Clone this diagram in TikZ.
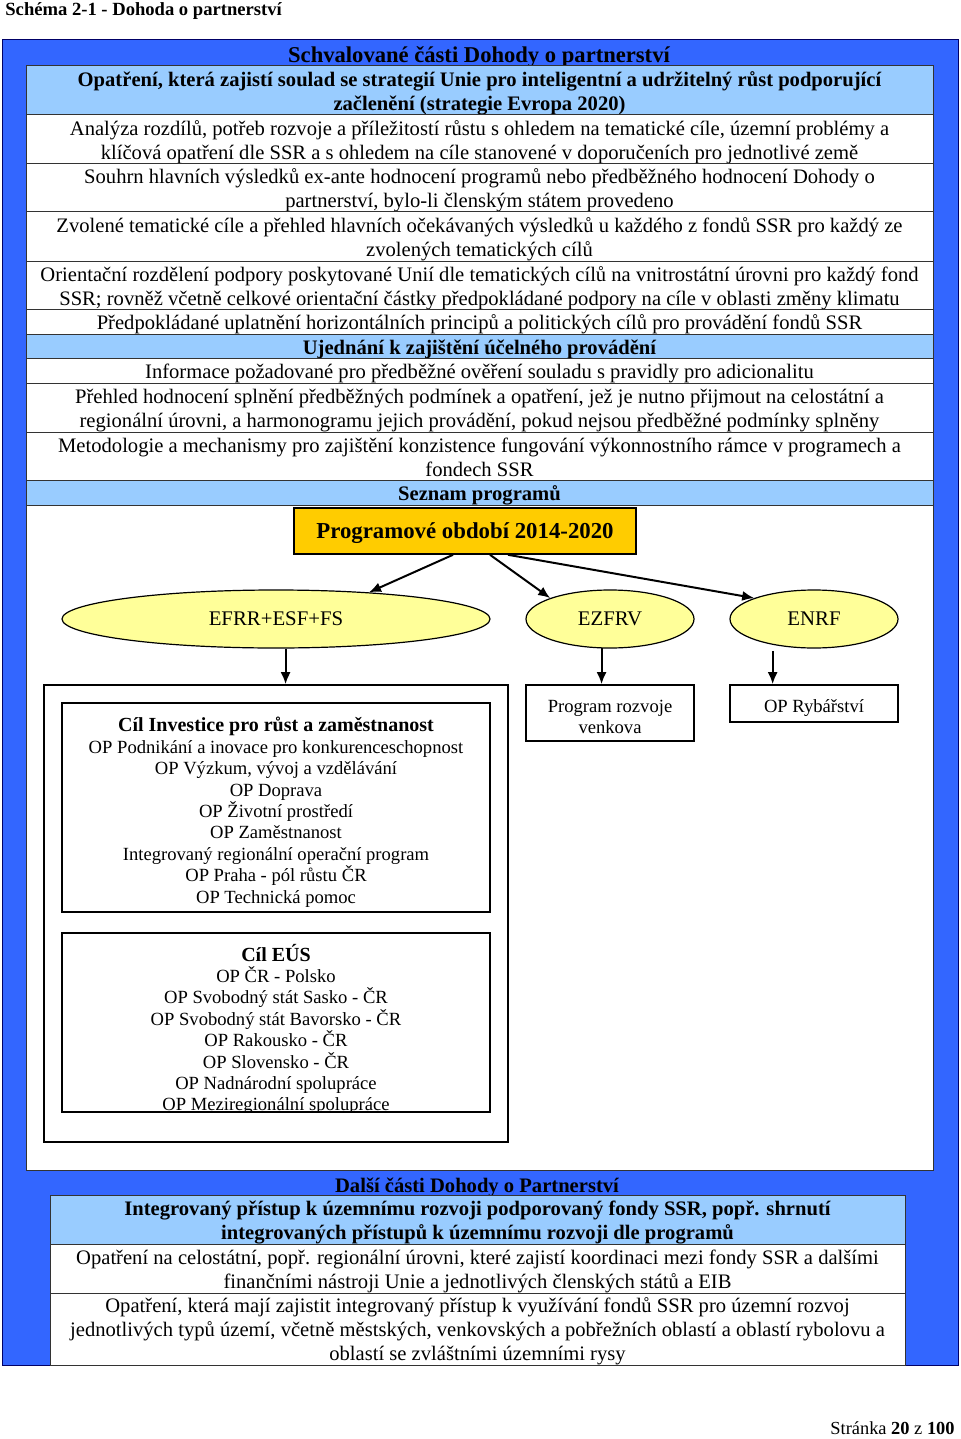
\documentclass[tikz,border=0pt]{standalone}
\usepackage{fontspec}
\setmainfont{Liberation Serif}
\usetikzlibrary{shapes.geometric, arrows.meta}
\definecolor{frameblue}{RGB}{51,102,255}
\definecolor{rowblue}{RGB}{153,204,255}
\definecolor{periodyellow}{RGB}{255,204,0}
\definecolor{fundyellow}{RGB}{255,255,153}
\newcommand{\rowtop}{\rule{0pt}{10pt}}
\newcommand{\rowbottom}{\rule[-2pt]{0pt}{0pt}}
\newcommand{\boxtop}{\rule{0pt}{11pt}}
\tikzstyle{row} = [draw = black!80, line width = 0.5pt, fill = white, inner sep = 0pt, align = center, font = \fontsize{10.3}{12}\selectfont, execute at begin node = {\rowtop}, execute at end node = {\rowbottom}]
\tikzstyle{toprow} = [row, minimum width = 453.5pt]
\tikzstyle{lowrow} = [row, minimum width = 427.5pt]
\tikzstyle{headrow} = [fill = rowblue, font = \fontsize{10.3}{12}\selectfont\bfseries]
\tikzstyle{twolines} = [minimum height = 24.5pt, execute at begin node = {\rule{0pt}{22.2pt}}]
\tikzstyle{threelines} = [minimum height = 36pt, execute at begin node = {\rule{0pt}{33.5pt}}]
\tikzstyle{fund} = [ellipse, draw, line width = 0.6pt, fill = fundyellow, inner sep = 0pt, minimum height = 29pt, font = \fontsize{10.4}{12}\selectfont]
\tikzstyle{progbox} = [draw, line width = 0.8pt, fill = white, inner sep = 0pt, align = center, font = \fontsize{9.3}{10.7}\selectfont, execute at begin node = {\boxtop}]
\tikzstyle{arrow} = [-{Latex[length = 6pt, width = 5pt]}, line width = 0.35mm]

\begin{document}
\begin{tikzpicture}[x = 0.5pt, y = -0.5pt]
        \useasboundingbox (0, 0) rectangle (960, 1439);
        \node (title) at (5, 11) [anchor = west, inner sep = 0pt, font = \fontsize{9.3}{11}\selectfont\bfseries] {Schéma 2-1 - Dohoda o partnerství};
        \node (page) at (955, 1428) [anchor = east, inner sep = 0pt, font = \fontsize{9.2}{11}\selectfont] {Stránka \textbf{20} z \textbf{100}};

        \draw [fill = frameblue, draw = blue!40!black, line width = 0.5pt] (2, 40) rectangle (958, 1365);
        \node (approved) at (479, 57) [font = \fontsize{11.3}{13}\selectfont\bfseries] {Schvalované části Dohody o partnerství};

        \node (r1) at (479.5, 90.5) [toprow, headrow, twolines] {Opatření, která zajistí soulad se strategií Unie pro inteligentní a udržitelný růst podporující\\ začlenění (strategie Evropa 2020)};
        \node (r2) at (479.5, 139.5) [toprow, twolines] {Analýza rozdílů, potřeb rozvoje a příležitostí růstu s ohledem na tematické cíle, územní problémy a\\ klíčová opatření dle SSR a s ohledem na cíle stanovené v doporučeních pro jednotlivé země};
        \node (r3) at (479.5, 188) [toprow, twolines, minimum height = 24pt] {Souhrn hlavních výsledků ex-ante hodnocení programů nebo předběžného hodnocení Dohody o\\ partnerství, bylo-li členským státem provedeno};
        \node (r4) at (479.5, 236.5) [toprow, twolines] {Zvolené tematické cíle a přehled hlavních očekávaných výsledků u každého z fondů SSR pro každý ze\\ zvolených tematických cílů};
        \node (r5) at (479.5, 285.5) [toprow, twolines] {Orientační rozdělení podpory poskytované Unií dle tematických cílů na vnitrostátní úrovni pro každý fond\\ SSR; rovněž včetně celkové orientační částky předpokládané podpory na cíle v oblasti změny klimatu};
        \node (r6) at (479.5, 322) [toprow, minimum height = 12pt] {Předpokládané uplatnění horizontálních principů a politických cílů pro provádění fondů SSR};
        \node (r7) at (479.5, 346.5) [toprow, headrow, minimum height = 12.5pt] {Ujednání k zajištění účelného provádění};
        \node (r8) at (479.5, 371) [toprow, minimum height = 12pt] {Informace požadované pro předběžné ověření souladu s pravidly pro adicionalitu};
        \node (r9) at (479.5, 407.5) [toprow, twolines] {Přehled hodnocení splnění předběžných podmínek a opatření, jež je nutno přijmout na celostátní a\\ regionální úrovni, a harmonogramu jejich provádění, pokud nejsou předběžné podmínky splněny};
        \node (r10) at (479.5, 456.5) [toprow, twolines] {Metodologie a mechanismy pro zajištění konzistence fungování výkonnostního rámce v programech a\\ fondech SSR};
        \node (r11) at (479.5, 493) [toprow, headrow, minimum height = 12pt] {Seznam programů};
        \node (panel) at (479.5, 837.5) [toprow, minimum height = 332.5pt] {};

        \node (period) at (465, 531) [draw, line width = 0.8pt, fill = periodyellow, minimum width = 171pt, minimum height = 23pt, inner sep = 0pt, text depth = 0.5pt, font = \fontsize{11.4}{14}\selectfont\bfseries] {Programové období 2014-2020};
        \node (efrr) at (276, 619) [fund, minimum width = 214pt] {EFRR+ESF+FS};
        \node (ezfrv) at (610, 619) [fund, minimum width = 84pt] {EZFRV};
        \node (enrf) at (814, 619) [fund, minimum width = 84pt] {ENRF};
        \draw [arrow] ([xshift = -6pt]period.south) -- (efrr.16);
        \draw [arrow] ([xshift = 12.5pt]period.south) -- (ezfrv.north west);
        \draw [arrow] ([xshift = 21.5pt]period.south) -- (enrf.north west);

        \node (progs) at (276, 913.5) [progbox, minimum width = 232pt, minimum height = 228.5pt] {};
        \node (invest) at (276, 807.5) [progbox, minimum width = 214pt, minimum height = 104.5pt, execute at begin node = {\rule{0pt}{97.6pt}}] {{\fontsize{10}{10.7}\selectfont\bfseries Cíl Investice pro růst a zaměstnanost}\\ OP Podnikání a inovace pro konkurenceschopnost\\ OP Výzkum, vývoj a vzdělávání\\ OP Doprava\\ OP Životní prostředí\\ OP Zaměstnanost\\ Integrovaný regionální operační program\\ OP Praha - pól růstu ČR\\ OP Technická pomoc};
        \node (eus) at (276, 1022.5) [progbox, minimum width = 214pt, minimum height = 89.5pt] {};
        \begin{scope}
            \clip (eus.south west) rectangle (eus.north east);
            \node (eustext) at (276, 1029.5) [progbox, draw = none, fill = none] {{\fontsize{10}{10.7}\selectfont\bfseries Cíl EÚS}\\ OP ČR - Polsko\\ OP Svobodný stát Sasko - ČR\\ OP Svobodný stát Bavorsko - ČR\\ OP Rakousko - ČR\\ OP Slovensko - ČR\\ OP Nadnárodní spolupráce\\ OP Meziregionální spolupráce};
        \end{scope}
        \node (venkov) at (610, 713) [progbox, minimum width = 84pt, minimum height = 28pt, execute at begin node = {\rule{0pt}{20.7pt}}] {Program rozvoje\\ venkova};
        \node (ryb) at (814, 703.5) [progbox, minimum width = 84pt, minimum height = 18.5pt] {OP Rybářství};
        \draw [arrow] (efrr.-72) -- (efrr.-72 |- progs.north);
        \draw [arrow] (ezfrv.-106) -- (ezfrv.-106 |- venkov.north);
        \draw [arrow, shorten < = 3pt] (enrf.-148) -- (enrf.-148 |- ryb.north);

        \node (other) at (477, 1187.5) [font = \fontsize{10.3}{12}\selectfont\bfseries] {Další části Dohody o Partnerství};
        \node (b1) at (477.5, 1220) [lowrow, headrow, twolines, minimum height = 24pt] {Integrovaný přístup k územnímu rozvoji podporovaný fondy SSR, popř. shrnutí\\ integrovaných přístupů k územnímu rozvoji dle programů};
        \node (b2) at (477.5, 1268.5) [lowrow, twolines] {Opatření na celostátní, popř. regionální úrovni, které zajistí koordinaci mezi fondy SSR a dalšími\\ finančními nástroji Unie a jednotlivých členských států a EIB};
        \node (b3) at (477.5, 1329) [lowrow, threelines] {Opatření, která mají zajistit integrovaný přístup k využívání fondů SSR pro územní rozvoj\\ jednotlivých typů území, včetně městských, venkovských a pobřežních oblastí a oblastí rybolovu a\\ oblastí se zvláštními územními rysy};
\end{tikzpicture}
\end{document}
